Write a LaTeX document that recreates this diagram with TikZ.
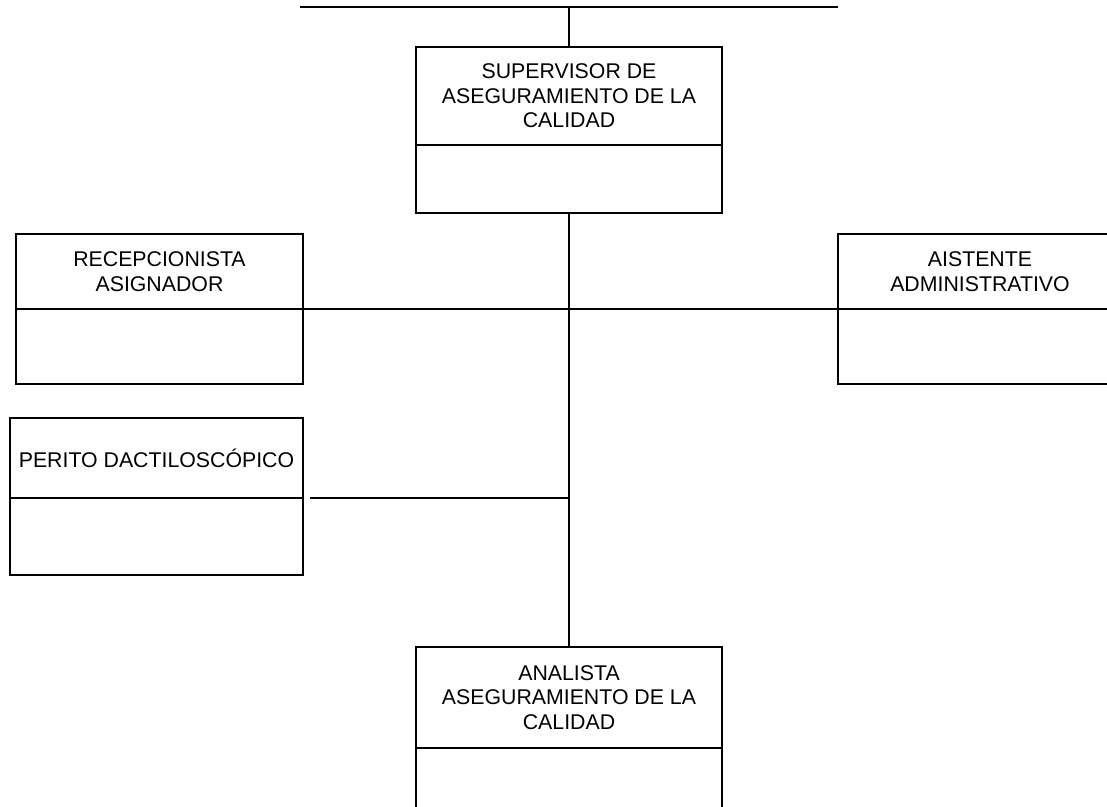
\documentclass[tikz,border=0pt]{standalone}
\usepackage{fontspec}
\setmainfont{Liberation Sans}
\begin{document}
\begin{tikzpicture}[x=1pt,y=-1pt,
  line width=1.6pt,
  cell/.style={draw, line width=1.6pt, inner sep=0pt, outer sep=0pt, align=center,
    font=\fontsize{21.3}{24.5}\selectfont},
  link/.style={line width=1.6pt}]
\useasboundingbox (0,0) rectangle (1107,806);
\clip (0,0) rectangle (1107,806);

% Supervisor
\node[cell, minimum width=306pt, minimum height=98pt] (sup) at (569,96)
  {SUPERVISOR DE\\ASEGURAMIENTO DE LA\\CALIDAD};
\node[cell, minimum width=306pt, minimum height=68pt] (suplow) at (569,179) {};

% Recepcionista
\node[cell, minimum width=287pt, minimum height=75pt] (rec) at (159.5,271.5)
  {RECEPCIONISTA\\ASIGNADOR};
\node[cell, minimum width=287pt, minimum height=75pt] (reclow) at (159.5,346.5) {};

% Asistente
\node[cell, minimum width=284pt, minimum height=75pt] (ais) at (980,271.5)
  {AISTENTE\\ADMINISTRATIVO};
\node[cell, minimum width=284pt, minimum height=75pt] (aislow) at (980,346.5) {};

% Perito
\node[cell, minimum width=293pt, minimum height=80pt] (per) at (156.5,458)
  {PERITO DACTILOSCÓPICO};
\node[cell, minimum width=293pt, minimum height=77pt] (perlow) at (156.5,536.5) {};

% Analista
\node[cell, minimum width=306pt, minimum height=101pt] (ana) at (569,697.5)
  {ANALISTA\\ASEGURAMIENTO DE LA\\CALIDAD};
\node[cell, minimum width=306pt, minimum height=84pt] (analow) at (569,790) {};

% Connectors
\coordinate (tl) at (300,7);
\coordinate (tr) at (838,7);
\coordinate (tm) at (569,7);
\draw[link] (tl) -- (tr);
\draw[link] (tm) -- (sup.north);
\draw[link] (suplow.south) -- (ana.north);
\draw[link] (reclow.north east) -- (aislow.north west);
\coordinate (pj) at ([xshift=7pt]perlow.north east);
\draw[link] (pj) -- (pj -| suplow.south);
\end{tikzpicture}
\end{document}
